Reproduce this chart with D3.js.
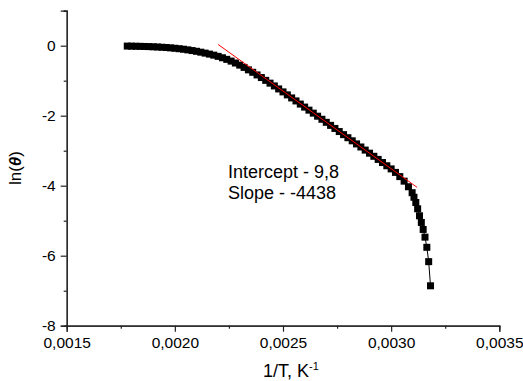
<!DOCTYPE html>
<html><head><meta charset="utf-8">
<script src="https://cdn.jsdelivr.net/npm/d3@7"></script>
<style>body{margin:0;background:#fff} svg{display:block}</style>
</head><body><svg id="c" width="523" height="381"></svg>
<script>
// measured data: 1/T (K^-1) and ln(theta)
const xValues = [
 0.00178,0.00180,0.00182,0.00184,0.00186,0.00188,0.00190,0.00192,0.00194,0.00196,
 0.00198,0.00200,0.00202,0.00204,0.00206,0.00208,0.00210,0.00212,0.00214,0.00216,
 0.00218,0.00220,0.00222,0.00224,0.00226,0.00228,0.00230,0.00232,0.00234,0.00236,
 0.00238,0.00240,0.00242,0.00244,0.00246,0.00248,0.00250,0.00252,0.00254,0.00256,
 0.00258,0.00260,0.00262,0.00264,0.00266,0.00268,0.00270,0.00272,0.00274,0.00276,
 0.00278,0.00280,0.00282,0.00284,0.00286,0.00288,0.00290,0.00292,0.00294,0.00296,
 0.00298,0.00300,0.00302,0.00304,0.00306,0.00308,0.003097,0.0031055,0.003114,0.0031225,
 0.003131,0.0031395,0.003148,0.0031565,0.003165,0.0031735,0.003182
];
const yValues = [
 -0.011,-0.013,-0.016,-0.019,-0.022,-0.026,-0.031,-0.037,-0.044,-0.052,
 -0.062,-0.073,-0.086,-0.101,-0.119,-0.139,-0.160,-0.185,-0.212,-0.240,
 -0.270,-0.305,-0.345,-0.390,-0.440,-0.495,-0.555,-0.620,-0.690,-0.760,
 -0.835,-0.910,-0.990,-1.070,-1.150,-1.235,-1.320,-1.405,-1.492,-1.578,
 -1.668,-1.754,-1.841,-1.927,-2.014,-2.102,-2.189,-2.276,-2.364,-2.453,
 -2.541,-2.629,-2.717,-2.806,-2.894,-2.983,-3.071,-3.160,-3.249,-3.338,
 -3.430,-3.520,-3.620,-3.740,-3.870,-4.030,-4.200,-4.330,-4.480,-4.660,
 -4.860,-5.050,-5.250,-5.470,-5.760,-6.170,-6.860
];
// linear fit segment (Intercept 9,8 ; Slope -4438)
const fitX = [0.0022, 0.00312];
const fitY = [0.036, -4.047];

const xTicks = [0.0015, 0.0020, 0.0025, 0.0030, 0.0035];
const xTickLabels = ["0,0015", "0,0020", "0,0025", "0,0030", "0,0035"];
const xMinorTicks = [0.00175, 0.00225, 0.00275, 0.00325];
const yTicks = [-8, -6, -4, -2, 0];
const yTickLabels = ["-8", "-6", "-4", "-2", "0"];
const yMinorTicks = [-7, -5, -3, -1, 1];
const annotation = ["Intercept - 9,8", "Slope - -4438"];

const svg = d3.select("#c");
const font = "'Liberation Sans', Arial, sans-serif";
const x = d3.scaleLinear().domain([0.0015, 0.0035]).range([66.7, 499.3]);
const y = d3.scaleLinear().domain([-8, 1]).range([325.7, 10.7]);

function styleAxis(g){
  g.select(".domain").attr("stroke", "#222").attr("stroke-width", 1.2);
  g.selectAll(".tick line").attr("stroke", "#222").attr("stroke-width", 1.2);
  g.selectAll(".tick text").attr("fill", "#000").style("font-family", font).style("font-size", "15.5px");
}

// minor axes
svg.append("g").attr("transform", `translate(0,${y(-8)})`)
  .call(d3.axisBottom(x).tickValues(xMinorTicks).tickSize(3).tickFormat(""))
  .call(styleAxis);
svg.append("g").attr("transform", `translate(${x(0.0015)},0)`)
  .call(d3.axisLeft(y).tickValues(yMinorTicks).tickSize(3).tickFormat(""))
  .call(styleAxis);
// major axes
svg.append("g").attr("transform", `translate(0,${y(-8)})`)
  .call(d3.axisBottom(x).tickValues(xTicks).tickSize(6).tickPadding(5).tickFormat((d,i)=>xTickLabels[i]))
  .call(styleAxis);
svg.append("g").attr("transform", `translate(${x(0.0015)},0)`)
  .call(d3.axisLeft(y).tickValues(yTicks).tickSize(6).tickPadding(5).tickFormat((d,i)=>yTickLabels[i]))
  .call(styleAxis);

const pts = xValues.map((v,i)=>[v, yValues[i]]);
// connecting line
svg.append("path").datum(pts)
  .attr("fill", "none").attr("stroke", "#000").attr("stroke-width", 1)
  .attr("d", d3.line().x(d=>x(d[0])).y(d=>y(d[1])));
// square markers
const s = 7;
svg.append("g").selectAll("rect").data(pts).join("rect")
  .attr("x", d=>x(d[0]) - s/2).attr("y", d=>y(d[1]) - s/2)
  .attr("width", s).attr("height", s).attr("fill", "#000");

// fit line
svg.append("path").datum(fitX.map((v,i)=>[v, fitY[i]]))
  .attr("fill", "none").attr("stroke", "#ff0000").attr("stroke-width", 1)
  .attr("d", d3.line().x(d=>x(d[0])).y(d=>y(d[1])));

// annotation
svg.append("g").selectAll("text").data(annotation).join("text")
  .attr("x", 228).attr("y", (d,i)=>178 + i*21)
  .style("font-family", font).style("font-size", "18px").attr("fill", "#000")
  .text(d=>d);

// y title
const yt = svg.append("text").attr("transform", "translate(21,168) rotate(-90)")
  .attr("text-anchor", "middle").style("font-family", font).style("font-size", "17px");
yt.append("tspan").text("ln(");
yt.append("tspan").style("font-weight", "bold").style("font-style", "italic").text("θ");
yt.append("tspan").text(")");

// x title
const xt = svg.append("text").attr("x", 263).attr("y", 377)
  .attr("text-anchor", "start").style("font-family", font).style("font-size", "18px");
xt.append("tspan").text("1/T, K");
xt.append("tspan").attr("dy", -7).style("font-size", "11px").text("-1");
</script></body></html>
